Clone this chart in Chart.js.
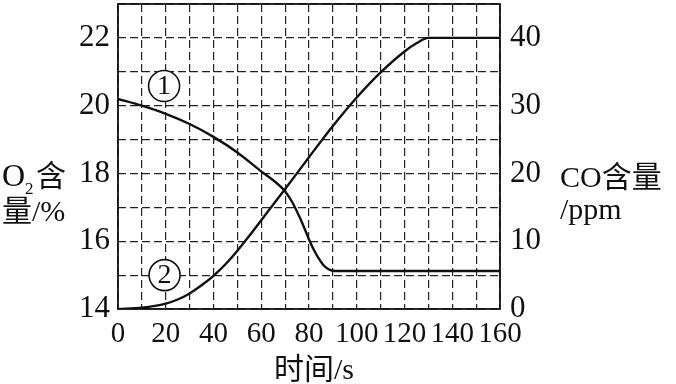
<!DOCTYPE html>
<html>
<head>
<meta charset="utf-8">
<script src="https://cdn.jsdelivr.net/npm/chart.js@4"></script>
<style>
  body { margin: 0; background: white; }
</style>
</head>
<body>
<canvas id="chart" width="676" height="384"></canvas>
<script>
// curve 1 - O2 content (%), left axis
const o2Times = [0, 10, 20, 30, 40, 50, 60, 65, 70, 73, 76, 78, 80, 82, 84, 86, 88, 90, 95, 160];
const o2Values = [20.2, 20.0, 19.76, 19.46, 19.08, 18.62, 18.06, 17.8, 17.47, 17.15, 16.72, 16.4, 16.05, 15.75, 15.5, 15.3, 15.18, 15.13, 15.12, 15.12];

// curve 2 - CO content (ppm), right axis
const coTimes = [0, 10, 20, 25, 30, 35, 40, 45, 50, 55, 60, 70, 80, 90, 100, 110, 120, 125, 130, 160];
const coValues = [0, 0.2, 0.8, 1.4, 2.3, 3.5, 4.9, 6.6, 8.6, 10.8, 13.1, 17.7, 22.4, 27.0, 31.2, 34.9, 38.0, 39.2, 40, 40];

const o2Ticks = [14, 16, 18, 20, 22];
const coTicks = [0, 10, 20, 30, 40];
const timeTicks = [0, 20, 40, 60, 80, 100, 120, 140, 160];

const serif = "'Liberation Serif', 'Times New Roman', serif";
const cjk = "'Liberation Serif', 'Noto Sans CJK SC', serif";

const toPoints = (xs, ys) => xs.map((x, i) => ({ x: x, y: ys[i] }));

const noPad = s => { s.paddingTop = 0; s.paddingBottom = 0; s.paddingLeft = 0; s.paddingRight = 0; };

const decorPlugin = {
    id: 'decor',
    beforeDatasetsDraw(chart) {
        const ctx = chart.ctx;
        const x = chart.scales.x, y = chart.scales.y;
        // circled curve numbers
        const marks = [['1', 19.3, 20.58], ['2', 19.5, 15.0]];
        ctx.save();
        marks.forEach(m => {
            const px = x.getPixelForValue(m[1]);
            const py = y.getPixelForValue(m[2]);
            ctx.beginPath();
            ctx.arc(px, py, 15.5, 0, Math.PI * 2);
            ctx.fillStyle = 'white';
            ctx.fill();
            ctx.lineWidth = 1.6;
            ctx.strokeStyle = '#111';
            ctx.stroke();
            ctx.fillStyle = '#111';
            ctx.font = '28px ' + serif;
            ctx.textAlign = 'center';
            ctx.textBaseline = 'middle';
            ctx.fillText(m[0], px, py + 1);
        });
        ctx.restore();
    },
    afterDraw(chart) {
        const ctx = chart.ctx;
        const a = chart.chartArea;
        ctx.save();
        ctx.strokeStyle = '#111';
        ctx.lineWidth = 1.8;
        ctx.strokeRect(a.left, a.top, a.right - a.left, a.bottom - a.top);

        ctx.fillStyle = '#111';
        ctx.textBaseline = 'alphabetic';
        ctx.textAlign = 'left';
        // left title: O2含 / 量/%
        ctx.font = '32px ' + serif;
        ctx.fillText('O', 2, 186);
        ctx.font = '17px ' + serif;
        ctx.fillText('2', 25, 194);
        ctx.font = '30px ' + cjk;
        ctx.fillText('含', 36, 186);
        ctx.fillText('量/%', 2, 221);
        // right title
        ctx.font = '30px ' + cjk;
        ctx.fillText('CO含量', 560, 187);
        ctx.fillText('/ppm', 560, 219);
        // bottom title
        ctx.textAlign = 'center';
        ctx.fillText('时间/s', 314, 379);
        ctx.restore();
    }
};

new Chart(document.getElementById('chart').getContext('2d'), {
    type: 'line',
    data: {
        datasets: [
            {
                label: 'O2',
                data: toPoints(o2Times, o2Values),
                yAxisID: 'y',
                borderColor: '#111',
                borderWidth: 2.4,
                pointRadius: 0,
                cubicInterpolationMode: 'monotone',
                fill: false
            },
            {
                label: 'CO',
                data: toPoints(coTimes, coValues),
                yAxisID: 'y1',
                borderColor: '#111',
                borderWidth: 2.4,
                pointRadius: 0,
                cubicInterpolationMode: 'monotone',
                fill: false
            }
        ]
    },
    options: {
        responsive: false,
        animation: false,
        layout: { padding: { top: 4, left: 0, right: 0, bottom: 0 } },
        plugins: {
            legend: { display: false },
            tooltip: { enabled: false }
        },
        scales: {
            x: {
                type: 'linear',
                min: 0,
                max: 160,
                afterFit: s => { s.height = 75; noPad(s); },
                ticks: {
                    stepSize: 10,
                    autoSkip: false,
                    maxRotation: 0,
                    padding: 8,
                    color: '#111',
                    font: { family: serif, size: 29 },
                    callback: v => timeTicks.includes(v) ? String(v) : ''
                },
                grid: { color: '#222', lineWidth: 1.2, drawTicks: false },
                border: { display: false, dash: [8, 4] }
            },
            y: {
                position: 'left',
                min: 14,
                max: 23,
                afterFit: s => { s.width = 118; noPad(s); },
                ticks: {
                    stepSize: 1,
                    autoSkip: false,
                    padding: 8,
                    color: '#111',
                    font: { family: serif, size: 31 },
                    callback: v => o2Ticks.includes(v) ? String(v) : ''
                },
                grid: { color: '#222', lineWidth: 1.2, drawTicks: false },
                border: { display: false, dash: [8, 4] }
            },
            y1: {
                position: 'right',
                min: 0,
                max: 45,
                afterFit: s => { s.width = 176; noPad(s); },
                ticks: {
                    stepSize: 5,
                    autoSkip: false,
                    padding: 10,
                    color: '#111',
                    font: { family: serif, size: 31 },
                    callback: v => coTicks.includes(v) ? String(v) : ''
                },
                grid: { display: false, drawTicks: false },
                border: { display: false }
            }
        }
    },
    plugins: [decorPlugin]
});
</script>
</body>
</html>
